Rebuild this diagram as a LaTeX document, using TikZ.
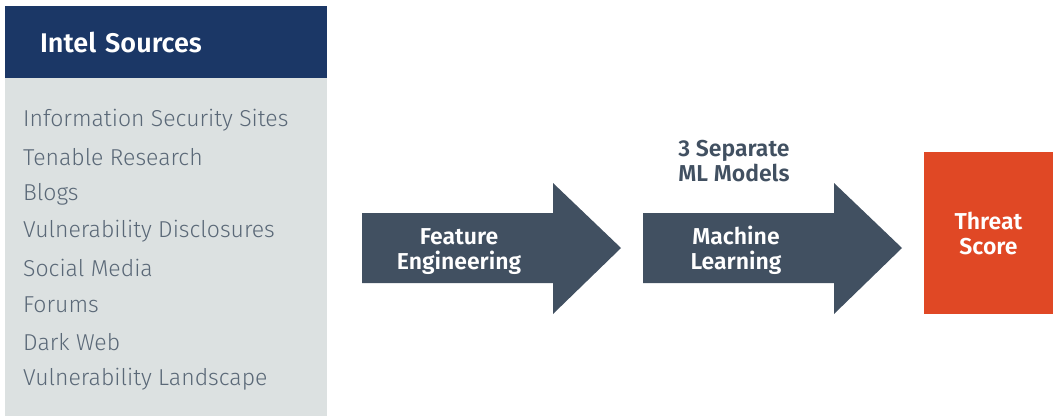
\documentclass[tikz,border=0pt]{standalone}
\usepackage{fontspec}
\setmainfont{Fira Sans}[UprightFont=* Light,BoldFont=* SemiBold]
\usetikzlibrary{positioning}
\definecolor{hdrBlue}{RGB}{27,55,102}
\definecolor{panelGrey}{RGB}{220,225,225}
\definecolor{slateGrey}{RGB}{65,80,97}
\definecolor{listGrey}{RGB}{90,104,119}
\definecolor{threatRed}{RGB}{224,72,37}

\begin{document}
\begin{tikzpicture}[x=1pt,y=-1pt,
  header box/.style={fill=hdrBlue,text=white,minimum width=322pt,minimum height=72pt,
  inner xsep=35pt,text width=252pt,align=left,font=\fontsize{27}{32}\selectfont\bfseries},
  source item/.style={anchor=west,inner sep=0pt,text=listGrey,font=\fontsize{23}{27}\selectfont},
  arrow label/.style={text=white,align=center,font=\fontsize{23}{25}\selectfont\bfseries},
  threat box/.style={fill=threatRed,text=white,align=center,minimum width=129pt,
  minimum height=162pt,font=\fontsize{23}{25}\selectfont\bfseries}]
\useasboundingbox (0,0) rectangle (1053,416);
%------------------------------------------------------------------------
% Sources panel
%------------------------------------------------------------------------
\fill[panelGrey] (5,78) rectangle (327,416);
\node[header box] (H) at (166,42) {Intel Sources};
\foreach \txt [count=\i] in {Information Security Sites,Tenable Research,Blogs,
  Vulnerability Disclosures,Social Media,Forums,Dark Web,Vulnerability Landscape}
  \node[source item] (S\i) at (23,83+37*\i) {\txt};
%------------------------------------------------------------------------
% The two process arrows
%------------------------------------------------------------------------
\foreach \xs in {0,281}
  \fill[slateGrey,xshift=\xs pt] (362,213) -- (553,213) -- (553,183) -- (621,248)
    -- (553,314) -- (553,283) -- (362,283) -- cycle;
\node[arrow label] (FE) at (459,252) {Feature\\Engineering};
\node[arrow label] (ML) at (736,250) {Machine\\Learning};
\node[text=slateGrey,align=center,font=\fontsize{23}{25}\selectfont\bfseries]
  (MD) at (734,161) {3 Separate\\ML Models};
%------------------------------------------------------------------------
% Output
%------------------------------------------------------------------------
\node[threat box] (TS) at (988.5,233) {Threat\\Score};
\end{tikzpicture}
\end{document}
